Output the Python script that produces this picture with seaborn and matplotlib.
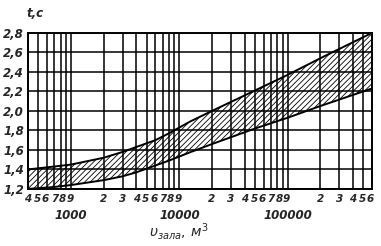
import matplotlib
matplotlib.use("Agg")
import matplotlib.pyplot as plt
import matplotlib.transforms as mtransforms
import seaborn as sns
import pandas as pd

# Data
volume = [400, 700, 1000, 2000, 3000, 4000, 6000, 8000, 12500, 20000,
          50000, 100000, 200000, 600000]
t_upper = [1.40, 1.43, 1.45, 1.52, 1.58, 1.63, 1.70, 1.77, 1.89, 2.00,
           2.21, 2.37, 2.54, 2.80]
t_lower = [1.20, 1.22, 1.24, 1.29, 1.33, 1.37, 1.44, 1.49, 1.575, 1.66,
           1.82, 1.93, 2.05, 2.23]

y_ticks = [1.2, 1.4, 1.6, 1.8, 2.0, 2.2, 2.4, 2.6, 2.8]
y_tick_labels = ["1,2", "1,4", "1,6", "1,8", "2,0", "2,2", "2,4", "2,6", "2,8"]
x_major = [1000, 10000, 100000]
x_major_labels = ["\n1000", "\n10000", "\n100000"]
x_minor = [400, 500, 600, 700, 800, 900,
           2000, 3000, 4000, 5000, 6000, 7000, 8000, 9000,
           20000, 30000, 40000, 50000, 60000, 70000, 80000, 90000,
           200000, 300000, 400000, 500000, 600000]
x_minor_labels = ["4", "5", "6", "7", "8", "9",
                  "2", "3", "4", "5", "6", "7", "8", "9",
                  "2", "3", "4", "5", "6", "7", "8", "9",
                  "2", "3", "4", "5", "6"]

df = pd.DataFrame({
    "V": volume * 2,
    "t": t_upper + t_lower,
    "curve": ["upper"] * len(volume) + ["lower"] * len(volume),
})

sns.set_style("white")
plt.rcParams["hatch.linewidth"] = 0.6
plt.rcParams["font.family"] = ["Liberation Sans Narrow", "DejaVu Sans"]

fig = plt.figure(figsize=(3.81, 2.46), dpi=100)
ax = fig.add_axes([0.0735, 0.232, 0.9025, 0.634])

ax.set_xscale("log")
ax.set_xlim(400, 600000)
ax.set_ylim(1.2, 2.8)

ax.set_xticks(x_major)
ax.set_xticks(x_minor, minor=True)
ax.set_yticks(y_ticks)
ax.grid(True, which="both", axis="x", color="black", linewidth=1.1)
ax.grid(True, which="major", axis="y", color="black", linewidth=1.1)
ax.set_axisbelow(True)

ax.fill_between(volume, t_lower, t_upper, facecolor="none", edgecolor="black",
                hatch="//////", linewidth=0)
sns.lineplot(data=df, x="V", y="t", hue="curve", palette=["black", "black"],
             linewidth=1.4, legend=False, ax=ax)

for s in ax.spines.values():
    s.set_color("black")
    s.set_linewidth(1.4)

fp = dict(fontsize=8.5, fontstyle="italic", fontweight="bold")
fpx = dict(fontsize=7.5, fontstyle="italic", fontweight="bold")
ax.set_yticklabels(y_tick_labels, **fp)
ax.set_xticklabels(x_major_labels, fontsize=8.5, fontstyle="italic", fontweight="bold")
ax.set_xticklabels(x_minor_labels, minor=True, **fpx)
ax.tick_params(axis="both", which="both", length=0, pad=3)
ax.tick_params(axis="x", which="both", pad=4)
ax.set_xlabel("")
ax.set_ylabel("")

# spread the crowded 5..9 digit labels slightly so they do not touch
shift_px = {"5": -1.0, "6": -1.5, "7": 0.0, "8": 2.0, "9": 4.0}
fig.canvas.draw()
for lab in ax.get_xticklabels(minor=True):
    dx = shift_px.get(lab.get_text(), 0.0)
    if dx:
        lab.set_transform(lab.get_transform() +
                          mtransforms.ScaledTranslation(dx / 100.0, 0, fig.dpi_scale_trans))

fig.text(0.092, 0.945, "t,c", ha="center", va="center", **fp)
fig.text(0.47, 0.058, r"$\mathit{\upsilon}_{\mathit{зала}}\mathit{,\,м}^{3}$",
         ha="center", va="center", fontsize=10)

fig.savefig("out.png", dpi=100)
